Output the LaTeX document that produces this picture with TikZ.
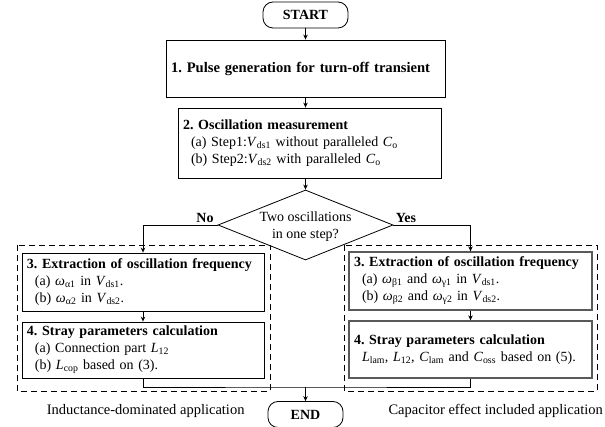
\documentclass[tikz,border=0pt]{standalone}
\usepackage{fontspec}
\setmainfont{Liberation Serif}
\usetikzlibrary{shapes.geometric,arrows.meta}
\newcommand{\vq}[2]{\textit{#1}\textsubscript{#2}}
\frenchspacing
\tikzset{
  >={Stealth[length=5pt,width=4.5pt]},
  txt/.style={font=\fontsize{14}{17}\selectfont},
  btxt/.style={font=\fontsize{14}{17}\selectfont\bfseries},
  term/.style={btxt, draw, line width=0.8pt, rounded corners=10pt, minimum height=26pt},
  stepbox/.style={txt, draw, line width=0.8pt, align=left, inner xsep=5pt, inner ysep=0pt},
  greybox/.style={stepbox, draw=black!65, line width=1.3pt},
  decision/.style={draw, line width=0.8pt, diamond, shape aspect=2.5, minimum width=175pt, minimum height=70pt, inner sep=0pt},
  frame/.style={draw, line width=0.8pt, dash pattern=on 6pt off 4pt},
  note/.style={font=\fontsize{14.5}{17}\selectfont},
  link/.style={line width=0.8pt}
}
\begin{document}
\begin{tikzpicture}[x=1pt, y=-1pt]
            \useasboundingbox (0,0) rectangle (605,427);
            \node[term, minimum width=85pt] (start) at (305.5,15) {START};
            \node[stepbox, text width=269pt, minimum height=57pt, font=\fontsize{14.6}{18}\selectfont] (pulse) at (305.5,68.5) {\mbox{\textbf{1. Pulse generation for turn-off transient}}};
            \node[stepbox, text width=253pt, minimum height=70pt] (meas) at (309.5,143) {\textbf{2. Oscillation measurement}\\
              \hspace*{8pt}(a) Step1:\vq{V}{ds1} without paralleled \vq{C}{o}\\
              \hspace*{8pt}(b) Step2:\vq{V}{ds2} with paralleled \vq{C}{o}};
            \node[decision] (dec) at (305.5,225) {};
            \node[txt, align=center] (ask) at (305.5,227) {Two oscillations\\in one step?};
            \node[btxt] (no) at (205,218) {No};
            \node[btxt] (yes) at (406,218) {Yes};
            \draw[frame] (17,245) rectangle (270,391);
            \draw[frame] (344,245) rectangle (597,391);
            \node[stepbox, text width=232pt, minimum height=58pt] (extA) at (143,282) {\textbf{3. Extraction of oscillation frequency}\\
              \hspace*{8pt}(a) \vq{ω}{α1} in \vq{V}{ds1}.\\
              \hspace*{8pt}(b) \vq{ω}{α2} in \vq{V}{ds2}.};
            \node[stepbox, text width=232pt, minimum height=56pt] (calcA) at (143,350) {\textbf{4. Stray parameters calculation}\\
              \hspace*{8pt}(a) Connection part \vq{L}{12}\\
              \hspace*{8pt}(b) \vq{L}{cop} based on (3).};
            \node[greybox, text width=233pt, minimum height=58pt] (extB) at (470.5,281) {\textbf{3. Extraction of oscillation frequency}\\
              \hspace*{8pt}(a) \vq{ω}{β1} and \vq{ω}{γ1} in \vq{V}{ds1}.\\
              \hspace*{8pt}(b) \vq{ω}{β2} and \vq{ω}{γ2} in \vq{V}{ds2}.};
            \node[greybox, text width=233pt, minimum height=57pt] (calcB) at (470.5,349.5) {\textbf{4. Stray parameters calculation}\\
              \hspace*{8pt}\vq{L}{lam}, \vq{L}{12}, \vq{C}{lam} and \vq{C}{oss} based on (5).};
            \coordinate (join) at (305.5,387);
            \node[term, minimum width=75pt] (end) at (305.5,414.5) {END};
            \node[note, anchor=east] (indapp) at (248,411) {Inductance-dominated application};
            \node[note, anchor=west] (capapp) at (385,411) {Capacitor effect included application};
            \draw[link, ->] (start) -- (pulse);
            \draw[link, ->] (pulse) -- (meas.north -| pulse);
            \draw[link, ->] (meas.south -| dec) -- (dec);
            \draw[link, ->] (dec.west) -| (extA);
            \draw[link, ->] (dec.east) -| (extB);
            \draw[link, ->] (extA) -- (calcA);
            \draw[link, ->] (extB) -- (calcB);
            \draw[link] (calcA.south) |- (join) -| (calcB.south);
            \draw[link, ->] (join) -- (end);
        \end{tikzpicture}
\end{document}
